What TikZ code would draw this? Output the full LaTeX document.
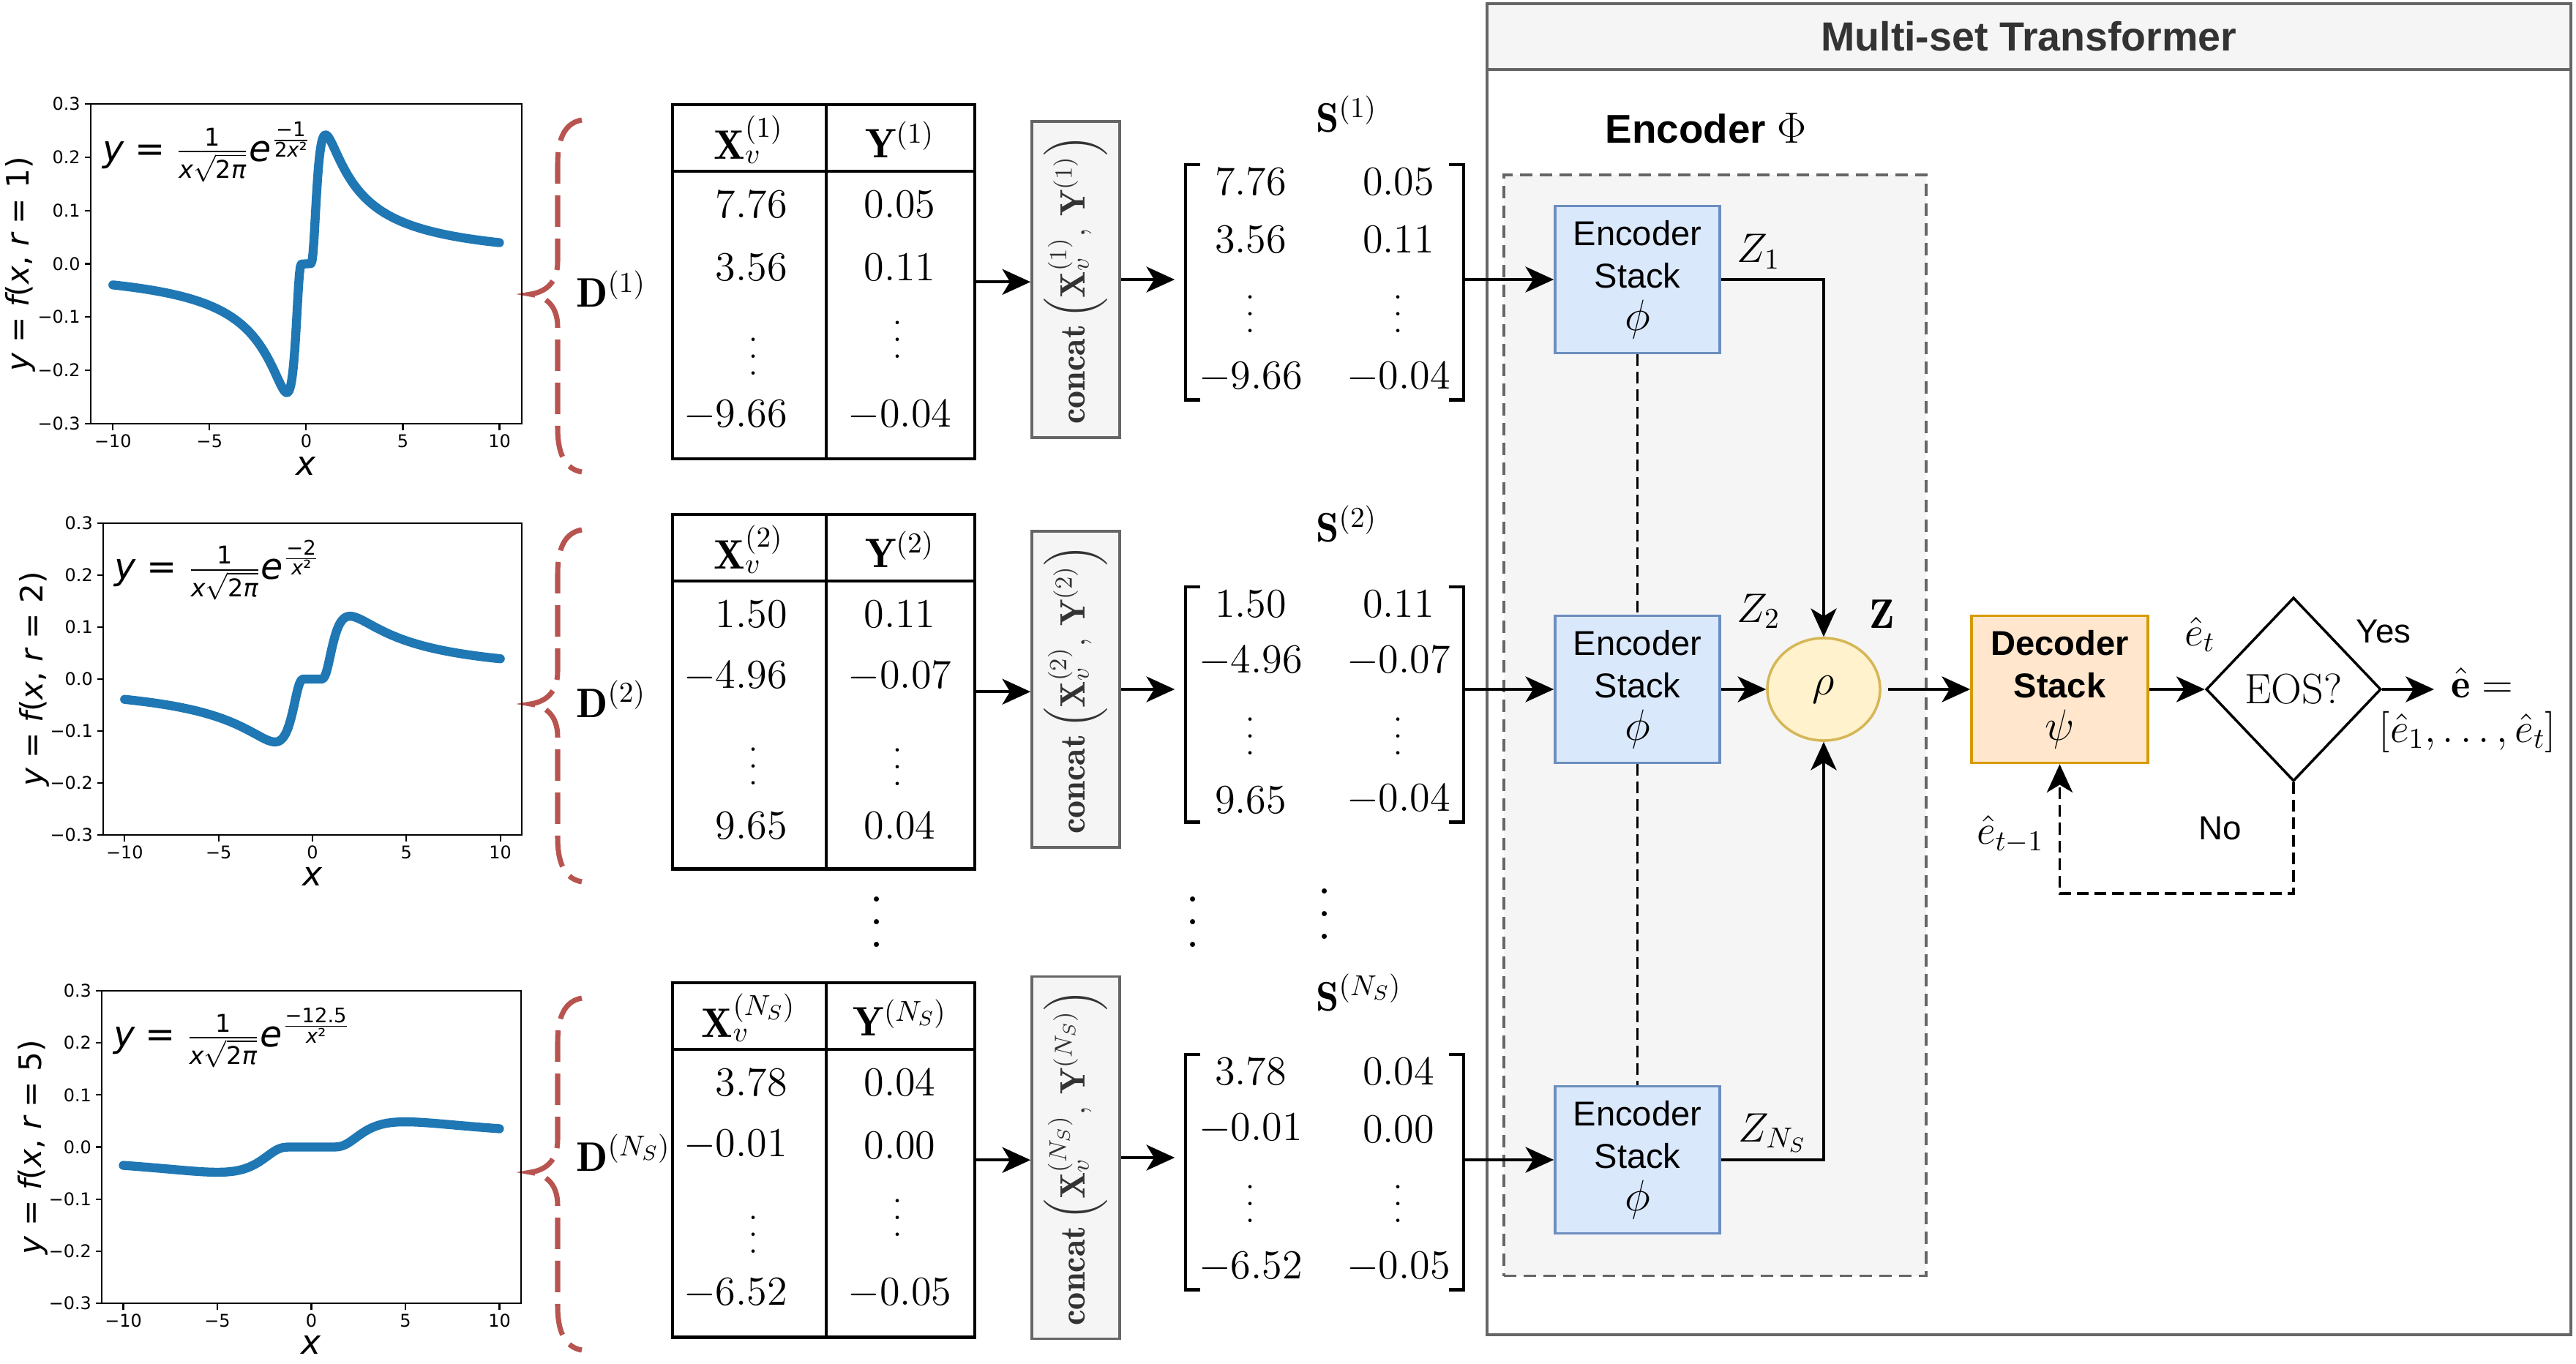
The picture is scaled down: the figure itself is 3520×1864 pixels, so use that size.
\RequirePackage{fix-cm}
\documentclass[tikz,border=0pt]{standalone}
\usepackage{amsmath}
\usepackage{amssymb}
\usepackage{xcolor}
\usepackage{fontspec}
\usepackage{tikz}
\usetikzlibrary{positioning,arrows.meta,shapes.geometric}

\newfontfamily\plotfont{DejaVu Sans}
\newfontfamily\boxfont{Liberation Sans}

\definecolor{curveblue}{HTML}{1F77B4}
\definecolor{bracered}{HTML}{B85450}
\definecolor{encfill}{HTML}{DAE8FC}
\definecolor{encdraw}{HTML}{6C8EBF}
\definecolor{rhofill}{HTML}{FFF2CC}
\definecolor{rhodraw}{HTML}{D6B656}
\definecolor{decfill}{HTML}{FFE6CC}
\definecolor{decdraw}{HTML}{D79B00}
\definecolor{groupfill}{HTML}{F5F5F5}
\definecolor{groupdraw}{HTML}{666666}
\definecolor{titletext}{HTML}{333333}

\newcommand{\pf}[1]{\plotfont\fontsize{#1}{#1}\selectfont}
\newcommand{\curvelabel}[1]{$\mbox{\pf{14}\itshape y}\mathrel{\mbox{\pf{14}=}}\frac{\mbox{\pf{9.5}1}}{\mbox{\pf{9.5}\itshape x}\sqrt{\mbox{\pf{9.5}2\itshape π}}}\mbox{\pf{14}\itshape e}^{#1}$}
\newcommand{\expo}[2]{\frac{\mbox{\pf{7.8}#1}}{\mbox{\pf{7.8}#2}}}
\newcommand{\dotcol}[1]{\vbox{\baselineskip=#1\lineskiplimit=0pt\hbox{.}\hbox{.}\hbox{.}}}
\newcommand{\bigsym}[1]{{\fontsize{17}{16.5}\selectfont$#1$}}

\tikzset{
  tabframe/.style={draw, line width=1.2pt, inner sep=0pt},
  tabline/.style={line width=1.2pt},
  tabcell/.style={font=\fontsize{16}{19}\selectfont, inner sep=1pt},
  matframe/.style={inner sep=0pt},
  sqbracket/.style={line width=1.3pt},
  concatbox/.style={draw=groupdraw, fill=groupfill, line width=1pt, rotate=90,
    minimum height=1.2cm, inner xsep=0.18cm, text=titletext, font=\fontsize{13.7}{16}\selectfont},
  stackbox/.style={draw=encdraw, fill=encfill, line width=1pt, minimum width=2.25cm,
    minimum height=2.01cm, align=center, font=\boxfont\fontsize{13.4}{16.5}\selectfont},
  decbox/.style={stackbox, draw=decdraw, fill=decfill, minimum width=2.41cm,
    font=\boxfont\bfseries\fontsize{13.4}{16.5}\selectfont},
  rhonode/.style={ellipse, draw=rhodraw, fill=rhofill, line width=1pt, minimum width=1.54cm,
    minimum height=1.40cm, font=\fontsize{17}{19}\selectfont},
  eosnode/.style={diamond, draw, fill=white, line width=1pt, minimum width=2.39cm,
    minimum height=2.51cm, inner sep=0pt, font=\fontsize{16.5}{19}\selectfont},
  mstbox/.style={draw=groupdraw, fill=white, line width=1.1pt},
  msttitle/.style={draw=groupdraw, fill=groupfill, line width=1.1pt, text=titletext,
    font=\boxfont\bfseries\fontsize{15.8}{18}\selectfont},
  groupbox/.style={draw=groupdraw, fill=groupfill, line width=1pt, dash pattern=on 0.17cm off 0.1cm},
  conn/.style={->, line width=1.1pt},
  dashlink/.style={line width=0.9pt, dash pattern=on 0.16cm off 0.08cm},
  dashbrace/.style={draw=bracered, line width=2pt, dash pattern=on 0.43cm off 0.16cm},
  bluecurve/.style={curveblue, line width=3.5pt, line cap=round, line join=round},
  axisframe/.style={line width=0.6pt},
  ticklab/.style={font=\pf{6.8}, inner sep=1.5pt},
  mathlab/.style={font=\fontsize{16}{19}\selectfont},
  sanslab/.style={font=\boxfont\fontsize{13}{16}\selectfont},
  bigdots/.style={font=\fontsize{24}{24}\selectfont, inner sep=0pt}
}

\begin{document}
\begin{tikzpicture}[x=0.01cm, y=-0.01cm, >={Stealth[length=11pt,width=10pt,inset=3pt]}]
\useasboundingbox (0,0) rectangle (3520,1864);
\fill[white] (0,0) rectangle (3520,1864);

% transformer frame
\node[mstbox, anchor=north west, minimum width=14.80cm, minimum height=18.18cm] (mst) at (2030,3) {};
\node[msttitle, anchor=north west, minimum width=14.80cm, minimum height=0.90cm] (mstt) at (2030,3) {Multi-set Transformer};
\node[groupbox, anchor=north west, minimum width=5.77cm, minimum height=15.04cm] (encgroup) at (2053,237) {};
\node[font=\boxfont\bfseries\fontsize{15.6}{18}\selectfont] (enclab) at (2331,175) {Encoder \bigsym{\Phi}};

% encoder, pooling, decoder
\node[stackbox] (enc1) at (2237.5,382) {Encoder\\Stack\\\bigsym{\phi}};
\node[stackbox] (enc2) at (2237.5,942) {Encoder\\Stack\\\bigsym{\phi}};
\node[stackbox] (enc3) at (2237.5,1585) {Encoder\\Stack\\\bigsym{\phi}};
\node[rhonode] (rho) at (2492,942) {$\rho$};
\node[decbox] (dec) at (2814.5,942) {Decoder\\Stack\\\bigsym{\psi}};
\node[eosnode] (eos) at (3134,942) {EOS?};
\coordinate (eout) at (3326,942);

\draw[dashlink] (enc1) -- (enc2);
\draw[dashlink] (enc2) -- (enc3);
\draw[conn] (enc1.east) -| (rho.north);
\draw[conn] (enc2) -- (rho);
\draw[conn] (enc3.east) -| (rho.south);
\draw[conn, shorten <=0.09cm] (rho) -- (dec);
\draw[conn] (dec) -- (eos);
\draw[conn] (eos) -- (eout);
\draw[conn, dash pattern=on 0.16cm off 0.08cm] (eos.south) -- ++(0,152) -| (dec.south);

\node[mathlab] (z1lab) at (2403,344) {$Z_1$};
\node[mathlab] (z2lab) at (2403,835) {$Z_2$};
\node[mathlab] (zlab) at (2572,839) {$\mathbf{Z}$};
\node[mathlab] (znlab) at (2422,1548) {$Z_{N_S}$};
\node[mathlab] (etlab) at (3006,867) {$\hat{e}_t$};
\node[mathlab] (etmlab) at (2747,1140) {$\hat{e}_{t-1}$};
\node[sanslab] (yeslab) at (3257,863) {Yes};
\node[sanslab] (nolab) at (3034,1132) {No};
\node[mathlab] (ehat) at (3392,933) {$\hat{\mathbf{e}} =$};
\node[mathlab] (elist) at (3372,1000) {$[\hat{e}_1,\dots,\hat{e}_t]$};

% one row per set: table, concat, matrix
\foreach \kk/\tabtop/\mattop/\sps/\xa/\ya/\xb/\yb/\xc/\yc/\yd/\dv/\db in {
  1/141/225/{(1)}/7.76/0.05/3.56/0.11/-9.66/-0.04/-0.04/323/279,
  2/701/802/{(2)}/1.50/0.11/-4.96/-0.07/9.65/0.04/-0.04/347/279,
  3/1341/1441/{(N_S)}/3.78/0.04/-0.01/0.00/-6.52/-0.05/-0.05/323/259}
{
  \node[tabframe, anchor=north west, minimum width=4.13cm, minimum height=4.84cm] (tab\kk) at (917,\tabtop) {};
  \draw[tabline] (917,\tabtop+93) -- (1330,\tabtop+93);
  \draw[tabline] (1129,\tabtop) -- (1129,\tabtop+484);
  \node[tabcell] (tx\kk) at (1023,\tabtop+50) {$\mathbf{X}_v^{\sps}$};
  \node[tabcell] (ty\kk) at (1229.5,\tabtop+50) {$\mathbf{Y}^{\sps}$};
  \node[tabcell, anchor=east] (txa\kk) at (1080,\tabtop+138) {$\xa$};
  \node[tabcell, anchor=east] (txb\kk) at (1080,\tabtop+224) {$\xb$};
  \node[tabcell] (txd\kk) at (1030,\tabtop+346) {\dotcol{6.5pt}};
  \node[tabcell, anchor=east] (txc\kk) at (1080,\tabtop+427) {$\xc$};
  \node[tabcell] (tya\kk) at (1229.5,\tabtop+138) {$\ya$};
  \node[tabcell] (tyb\kk) at (1229.5,\tabtop+224) {$\yb$};
  \node[tabcell] (tyd\kk) at (1227,\tabtop+\dv) {\dotcol{6.5pt}};
  \node[tabcell] (tyc\kk) at (1229.5,\tabtop+427) {$\yc$};

  \node[concatbox] (cc\kk) at (1470,\tabtop+241) {$\mathbf{concat}\left(\mathbf{X}_v^{\sps},\,\mathbf{Y}^{\sps}\right)$};

  \node[matframe, anchor=north, minimum width=3.78cm, minimum height=3.2cm] (mat\kk) at (1810,\mattop) {};
  \draw[sqbracket] ([xshift=0.2cm]mat\kk.north west) -- (mat\kk.north west) -- (mat\kk.south west) -- ([xshift=0.2cm]mat\kk.south west);
  \draw[sqbracket] ([xshift=-0.2cm]mat\kk.north east) -- (mat\kk.north east) -- (mat\kk.south east) -- ([xshift=-0.2cm]mat\kk.south east);
  \node[tabcell] (mxa\kk) at (1709,\mattop+23) {$\xa$};
  \node[tabcell] (mya\kk) at (1911,\mattop+23) {$\ya$};
  \node[tabcell] (mxb\kk) at (1709,\mattop+102) {$\xb$};
  \node[tabcell] (myb\kk) at (1911,\mattop+102) {$\yb$};
  \node[tabcell] (mxd\kk) at (1709,\mattop+204) {\dotcol{6.5pt}};
  \node[tabcell] (myd\kk) at (1911,\mattop+204) {\dotcol{6.5pt}};
  \node[tabcell] (mxc\kk) at (1709,\mattop+291) {$\xc$};
  \node[tabcell] (myc\kk) at (1911,\mattop+291) {$\yd$};
  \node[mathlab, anchor=base west] (slab\kk) at (1786,\tabtop+40) {$\mathbf{S}^{\sps}$};

  \draw[conn] (tab\kk.east) -- (tab\kk.east -| cc\kk.north);
  \draw[conn, shorten >=0.15cm] (cc\kk.south) -- (cc\kk.south -| mat\kk.west);
  \draw[conn] (mat\kk.east |- enc\kk) -- (enc\kk);

  % brace round the plot
  \draw[dashbrace] (795,\tabtop+23) .. controls (772,\tabtop+27) and (762,\tabtop+48) .. (762,\tabtop+83)
    -- (762,\tabtop+216) .. controls (762,\tabtop+246) and (745,\tabtop+258) .. (725,\tabtop+261)
    .. controls (745,\tabtop+264) and (762,\tabtop+276) .. (762,\tabtop+306)
    -- (762,\tabtop+444) .. controls (762,\tabtop+479) and (772,\tabtop+500) .. (795,\tabtop+504);
  \node[mathlab, anchor=base west] (dlab\kk) at (775,\tabtop+\db) {$\mathbf{D}^{\sps}$};
}

\node[bigdots] (vdt) at (1198,1260) {\dotcol{8.8pt}};
\node[bigdots] (vdc) at (1630,1260) {\dotcol{8.8pt}};
\node[bigdots] (vdm) at (1810,1249) {\dotcol{8.8pt}};

% plots
\foreach \kk/\cx/\cy/\sx/\sy/\rr/\expn in {
  1/418.4/360.5/26.41/728/1/{\expo{−1}{2\itshape x\upshape²}},
  2/427/928/25.67/710/2/{\expo{−2}{\itshape x\upshape²}},
  3/425.5/1567.5/25.7/711.7/5/{\expo{−12.5}{\itshape x\upshape²}}}
{
  \begin{scope}[shift={(\cx,\cy)}, xscale=\sx, yscale=-\sy]
    \draw[axisframe] (-11.15,-0.3) rectangle (11.15,0.3);
    \foreach \tk/\tl in {-10/−10,-5/−5,0/0,5/5,10/10}
      \draw[axisframe] (\tk,-0.3) -- (\tk,-0.312) node[ticklab, below] {\tl};
    \foreach \tk/\tl in {0.3/0.3,0.2/0.2,0.1/0.1,0/0.0,-0.1/−0.1,-0.2/−0.2,-0.3/−0.3}
      \draw[axisframe] (-11.15,\tk) -- (-11.45,\tk) node[ticklab, left] {\tl};
    \draw[bluecurve] plot[domain=-10:-\rr/4, samples=200] (\x,{exp(-\rr*\rr/(2*\x*\x))/(\x*2.5066)})
      -- plot[domain=\rr/4:10, samples=200] (\x,{exp(-\rr*\rr/(2*\x*\x))/(\x*2.5066)});
    \node[anchor=west, font=\fontsize{15}{17}\selectfont, inner sep=0pt] (flab\kk) at (-10.55,0.21) {\curvelabel{\expn}};
    \node[font=\pf{13}] (xlab\kk) at (0,-0.38) {\itshape x};
    \node[rotate=90, font=\pf{12}] (ylab\kk) at (-14.8,0) {\itshape y\upshape{} = \itshape f\upshape(\itshape x\upshape, \itshape r\upshape{} = \rr)};
  \end{scope}
}
\end{tikzpicture}
\end{document}
